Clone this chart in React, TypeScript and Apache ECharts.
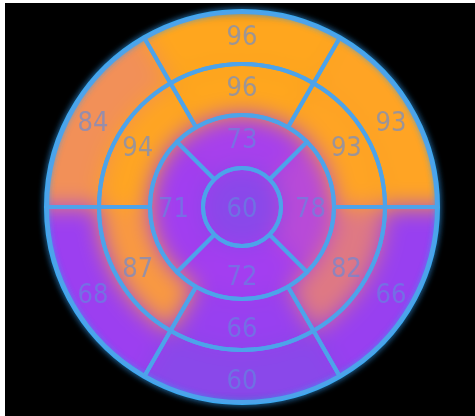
import { useEffect, useRef } from "react";
import * as echarts from "echarts";

// 17-segment polar map: basal, mid and apical rings plus the apex.
const basalSegments = ["Anterior", "Anterolateral", "Inferolateral", "Inferior", "Inferoseptal", "Anteroseptal"];
const basalScores = [96, 93, 66, 60, 68, 84];

const midSegments = ["Anterior", "Anterolateral", "Inferolateral", "Inferior", "Inferoseptal", "Anteroseptal"];
const midScores = [96, 93, 82, 66, 87, 94];

const apicalSegments = ["Anterior", "Lateral", "Inferior", "Septal"];
const apicalScores = [73, 78, 72, 71];

const apexSegments = ["Apex"];
const apexScores = [60];

const scoreMin = 60;
const scoreMax = 96;
const heatColors = ["#8a48ea", "#9840f0", "#a33ef0", "#b84ad8", "#f29058", "#ffa22a", "#ffa61e"];

const CENTER: [number, number] = [242, 207];
const LINE = "#4da3ea";

const rings = [
  { names: basalSegments, scores: basalScores, inner: 143, outer: 195, fillOuter: 225, startAngle: 120, pos: "inside" },
  { names: midSegments, scores: midScores, inner: 92, outer: 143, fillOuter: 143, startAngle: 120, pos: "inside" },
  { names: apicalSegments, scores: apicalScores, inner: 39, outer: 92, fillOuter: 92, startAngle: 135, pos: "inside" },
  { names: apexSegments, scores: apexScores, inner: 0, outer: 39, fillOuter: 39, startAngle: 90, pos: "center" },
];

const datasets = rings.map((r) => ({
  dimensions: ["segment", "share", "score"],
  source: r.names.map((n, i) => [n, 1, r.scores[i]]),
}));

export default function App() {
  const fillRef = useRef<HTMLDivElement>(null);
  const gridRef = useRef<HTMLDivElement>(null);

  useEffect(() => {
    document.body.style.margin = "0";
    const fill = echarts.init(fillRef.current!, undefined, { renderer: "svg" });
    const grid = echarts.init(gridRef.current!, undefined, { renderer: "svg" });

    fill.setOption({
      animation: false,
      dataset: datasets,
      visualMap: {
        type: "continuous",
        show: false,
        min: scoreMin,
        max: scoreMax,
        dimension: 2,
        seriesIndex: rings.map((_, k) => k),
        inRange: { color: heatColors },
      },
      series: rings.map((r, k) => ({
        type: "pie",
        datasetIndex: k,
        encode: { itemName: "segment", value: "share" },
        center: CENTER,
        radius: [r.inner, r.fillOuter],
        startAngle: r.startAngle,
        clockwise: true,
        silent: true,
        emphasis: { disabled: true },
        label: { show: false },
        labelLine: { show: false },
        itemStyle: { borderWidth: 0 },
      })),
    });

    grid.setOption({
      animation: false,
      dataset: datasets,
      graphic: [
        {
          type: "circle",
          shape: { cx: CENTER[0], cy: CENTER[1], r: 196 },
          style: { fill: "none", stroke: "#3aaaf2", lineWidth: 4, shadowBlur: 6, shadowColor: "#2f9df5" },
          silent: true,
        },
      ],
      series: rings.map((r, k) => ({
        type: "pie",
        datasetIndex: k,
        encode: { itemName: "segment", value: "share" },
        center: CENTER,
        radius: [r.inner, r.outer],
        startAngle: r.startAngle,
        clockwise: true,
        silent: true,
        avoidLabelOverlap: false,
        emphasis: { disabled: true },
        itemStyle: { color: "rgba(0,0,0,0)", borderColor: LINE, borderWidth: 4 },
        labelLine: { show: false },
        label: {
          show: true,
          position: r.pos,
          formatter: (p: any) => String(p.value[2]),
          fontFamily: "'DejaVu Sans Condensed', 'Liberation Sans Narrow', sans-serif",
          fontSize: 27,
          color: "rgba(95,138,222,0.62)",
        },
      })),
    });

    return () => {
      fill.dispose();
      grid.dispose();
    };
  }, []);

  return (
    <div style={{ position: "relative", width: 475, height: 416, background: "#fff", overflow: "hidden" }}>
      <div style={{ position: "absolute", left: 5, top: 3, right: 0, bottom: 0, background: "#000" }} />
      <div
        style={{
          position: "absolute",
          left: 0,
          top: 0,
          width: 475,
          height: 416,
          clipPath: "circle(196px at 242px 207px)",
        }}
      >
        <div ref={fillRef} style={{ width: 475, height: 416, filter: "blur(11px)" }} />
      </div>
      <div
        ref={gridRef}
        style={{ position: "absolute", left: 0, top: 0, width: 475, height: 416, filter: "blur(0.6px)" }}
      />
    </div>
  );
}
